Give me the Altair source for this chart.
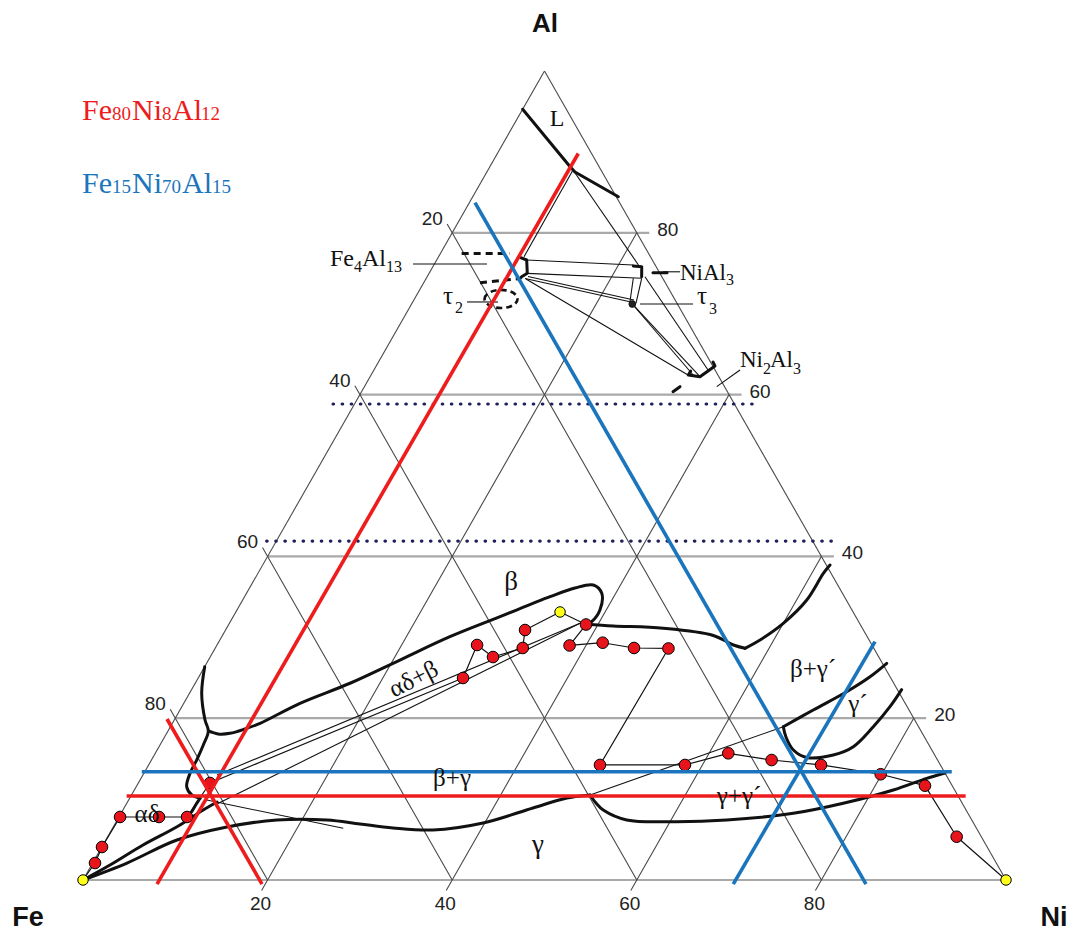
import altair as alt
import pandas as pd

RED = "#ee1c1c"
BLUE = "#1b75bc"
NAVY = "#1f1f5c"
INK = "#111111"

# ---------------- data (compositions: (Ni at.%, Al at.%)) -------------
path_pts = [(0, 0), (0.25, 2.10), (0.02, 4.08), (0.12, 7.79), (4.34, 7.79), (7.38, 7.79), (7.76, 11.99),
            (28.69, 24.97), (28.17, 29.05), (30.64, 27.56), (33.30, 28.68), (32.44, 30.90), (35.12, 33.13),
            (38.71, 31.58), (38.22, 28.99), (41.64, 29.33), (45.36, 28.68), (49.12, 28.62),
            (48.90, 14.22), (58.11, 14.22), (62.08, 15.66), (67.19, 14.83), (72.85, 14.22), (79.89, 13.07),
            (85.39, 11.66), (91.98, 5.35), (100, 0)]
path_kind = ["end"] + ["mid"] * 11 + ["end"] + ["mid"] * 13 + ["end"]

curve_L = [(0, 95.27), (8.54, 88.29), (9.54, 87.52), (15.77, 84.46)]
curve_alpha = [(0, 26.37), (1.32, 23.08), (3.33, 19.78), (4.37, 18.42), (4.69, 16.69), (4.90, 14.83),
               (5.0, 13.18), (5.47, 11.53), (6.53, 10.51), (7.63, 10.10)]
curve_alpha_tail = [(7.63, 10.10), (7.58, 9.48), (7.56, 8.44)]
curve_beta_upper = [(4.37, 18.42), (5.61, 18.05), (6.86, 18.13), (8.22, 18.67), (9.5, 19.37), (12.59, 21.84),
                    (16.77, 24.32), (20.74, 27.19), (24.72, 30.07), (28.91, 32.55), (33.09, 35.02),
                    (35.25, 36.09), (37.06, 36.46), (38.49, 35.43), (39.32, 33.37), (39.15, 31.93),
                    (38.77, 31.61)]
curve_beta_right = [(38.77, 31.61), (41.75, 31.4), (47.31, 31.11), (53.18, 30.22), (55.94, 29.05), (57.4, 28.64)]
curve_bgp_top = [(57.4, 28.64), (58.52, 29.67), (60.01, 31.72), (61.11, 34.61), (61.26, 37.9), (61.46, 38.94)]
curve_gp_top = [(66.4, 18.95), (68.61, 21.01), (71.1, 23.27), (72.71, 25.12), (73.69, 26.78)]
curve_gp_bot = [(66.4, 18.95), (67.32, 17.68), (68.93, 16.07), (70.84, 15.14), (73.56, 15.45), (75.22, 16.48),
                (76.15, 18.95), (76.72, 21.42), (76.93, 23.53)]
curve_ggp_bot = [(49.68, 10.51), (50.82, 9.52), (52.04, 8.65), (55.2, 7.42), (60.71, 7.21), (66.03, 7.42),
                 (72.84, 8.24), (77.63, 9.48), (82.23, 11.12), (85.12, 12.57), (86.78, 13.23)]
curve_gamma = [(0, 0), (3.72, 2.1), (7.71, 4.94), (12.32, 6.55), (17.31, 7.42), (22.73, 7.42), (26.55, 6.92),
               (30.38, 6.43), (34.83, 6.18), (39.82, 7.05), (44.3, 8.9), (47.37, 10.14), (49.68, 10.51)]
curve_A = [(0, 0), (2.0, 1.85), (4.34, 4.33), (6.89, 6.59), (8.7, 8.65), (9.7, 9.64)]

bracket_fe4al13 = [(8.86, 76.97), (9.75, 76.64), (10.64, 74.99), (10.24, 74.57), (10.17, 74.36)]
bracket_nial3 = [(21.67, 75.9), (22.63, 75.81), (23.24, 74.57)]
dash_nial3 = [(24.22, 75.07), (25.74, 75.07)]
bracket_ni2al3 = [(34.38, 62.92), (34.37, 62.42), (35.74, 62.21), (36.7, 63.54), (36.24, 64.03)]
dash_ni2al3 = [(33.74, 60.36), (34.19, 60.98)]
dashed_fe4al13 = [[(2.3, 77.45), (7.53, 77.45)], [(6.1, 73.82), (10.17, 74.36)]]

tie_lines = [
    [(9.21, 87.76), (9.26, 77.05)], [(9.21, 87.76), (22.17, 76.02)],
    [(9.75, 76.64), (21.61, 76.02)], [(10.64, 74.99), (23.34, 74.38)],
    [(10.71, 74.36), (23.65, 71.45)], [(10.91, 74.6), (23.85, 71.69)],
    [(10.85, 74.29), (34.34, 62.42)], [(23.91, 71.2), (35.05, 62.3)], [(23.91, 71.2), (35.74, 62.21)],
    [(23.6, 74.57), (36.2, 63.04)],
    [(22.43, 74.38), (23.52, 71.48)], [(23.34, 74.38), (24.27, 71.28)],
    [(9.66, 9.27), (37.98, 31.73)], [(8.03, 12.98), (37.98, 31.73)],
    [(8.46, 9.89), (25.0, 6.39)], [(49.68, 10.51), (66.4, 18.95)],
]
leaders = [[(-2.32, 76.14), (5.7, 76.14)], [(5.88, 71.45), (9.24, 71.45)], [(25.25, 75.18), (27.1, 75.18)],
           [(24.75, 71.2), (30.49, 71.2)], [(38.17, 60.98), (39.66, 63.04)]]

tau2_center = (9.38, 71.82)
tau3_point = (23.91, 71.2)

dotted_lines = [[(-2.33, 58.84), (43.39, 58.84)], [(-1.05, 41.9), (60.2, 41.9)]]
red_lines = [[(8.27, -0.5), (8.76, 89.8)], [(-0.85, 19.9), (19.64, -0.5)], [(-0.46, 10.38), (90.44, 10.38)]]
blue_lines = [[(0.61, 83.72), (85.08, -0.5)], [(71.08, 29.46), (70.7, -0.5)], [(-0.33, 13.39), (87.43, 13.39)]]

grid_values = [20, 40, 60, 80]

# ---------------- geometry helpers -------------------------------------------------------
W, H = 1062, 925
SX, SY = 9.23, 8.09  # pixels per composition unit
xs = alt.Scale(domain=[-75 / SX, (W - 75) / SX], nice=False, zero=False)
ys = alt.Scale(domain=[(872 - H) / SY, 872 / SY], nice=False, zero=False)


def cart(ni, al):
    return ni + al / 2.0, al


def px2xy(px, py):
    return (px - 83) / SX, (880 - py) / SY


def lines_df(polys):
    rows = []
    for i, pts in enumerate(polys):
        for j, (ni, al) in enumerate(pts):
            x, y = cart(ni, al)
            rows.append({"id": i, "o": j, "X": x, "Y": y})
    return pd.DataFrame(rows)


def line_layer(polys, color, width, dash=None, interp="linear", cap="butt"):
    kw = dict(color=color, strokeWidth=width, interpolate=interp, strokeCap=cap, strokeJoin="round")
    if dash:
        kw["strokeDash"] = dash
    return alt.Chart(lines_df(polys)).mark_line(**kw).encode(
        x=alt.X("X:Q", scale=xs, axis=None),
        y=alt.Y("Y:Q", scale=ys, axis=None),
        detail="id:N", order="o:Q")


# grid
grid_h = [[(0, 0), (100, 0)]] + [[(0, a), (100 - a, a), (100 - a + 1.35, a)] for a in grid_values]
grid_s = [[(0, 0), (0, 100)], [(100, 0), (0, 100)]]
grid_s += [[(n, -1.3), (n, 0), (n, 100 - n)] for n in grid_values]
grid_s += [[(100 - f, 0), (0, 100 - f), (-1.1, 100 - f + 1.1)] for f in grid_values]

layers = []
layers.append(line_layer(grid_h, "#a9a9a9", 2.2))
layers.append(line_layer(grid_s, "#4a4a4a", 1.1))
layers.append(line_layer(dotted_lines, NAVY, 3.2, dash=[0.5, 8.6], cap="round"))
layers.append(line_layer(tie_lines + leaders, INK, 1.1))
layers.append(line_layer([curve_alpha, curve_beta_upper, curve_beta_right, curve_bgp_top, curve_gp_top,
                          curve_gp_bot, curve_ggp_bot, curve_gamma, curve_A],
                         INK, 3.0, interp="catmull-rom", cap="round"))
layers.append(line_layer([curve_L, curve_alpha_tail, bracket_fe4al13, bracket_nial3, dash_nial3,
                          bracket_ni2al3, dash_ni2al3], INK, 3.0, cap="round"))
layers.append(line_layer(dashed_fe4al13, INK, 3.0, dash=[7, 5]))

# tau2 dashed oval and tau3 dot
x2, y2 = cart(*tau2_center)
layers.append(alt.Chart(pd.DataFrame({"X": [x2], "Y": [y2]})).mark_point(
    shape="M-1,0A1,0.55,0,1,1,1,0A1,0.55,0,1,1,-1,0Z", size=1090, filled=False,
    stroke=INK, strokeWidth=2.6, strokeDash=[6, 4], opacity=1).encode(
    x=alt.X("X:Q", scale=xs, axis=None), y=alt.Y("Y:Q", scale=ys, axis=None)))
x3, y3 = cart(*tau3_point)
layers.append(alt.Chart(pd.DataFrame({"X": [x3], "Y": [y3]})).mark_point(
    shape="circle", size=45, filled=True, fill="#222222", stroke=INK, strokeWidth=1, opacity=1).encode(
    x=alt.X("X:Q", scale=xs, axis=None), y=alt.Y("Y:Q", scale=ys, axis=None)))

# diffusion path
layers.append(line_layer([path_pts], INK, 1.2))
pdf = pd.DataFrame([{"X": cart(ni, al)[0], "Y": al, "fillc": ("#ffff1a" if k == "end" else "#e8141b"),
                     "sz": (110 if k == "end" else 135)} for (ni, al), k in zip(path_pts, path_kind)])
layers.append(alt.Chart(pdf).mark_point(filled=True, stroke="#000000", strokeWidth=1, opacity=1).encode(
    x=alt.X("X:Q", scale=xs, axis=None), y=alt.Y("Y:Q", scale=ys, axis=None),
    fill=alt.Fill("fillc:N", scale=None), size=alt.Size("sz:Q", scale=None)))

# composition lines
layers.append(line_layer(red_lines, RED, 3.6))
layers.append(line_layer(blue_lines, BLUE, 3.6))

# ---------------- text ------------------------------------------------------------------
legend_red = [("Fe", 82, 30), ("80", 112, 19), ("Ni", 132, 30), ("8", 162, 19), ("Al", 172, 30), ("12", 201, 19)]
legend_blue = [("Fe", 82, 30), ("15", 112, 19), ("Ni", 132, 30), ("70", 162, 19), ("Al", 182, 30), ("15", 212, 19)]

serif_left = []
for t, x, s in legend_red:
    serif_left.append((t, x, 120, s, RED, 0))
for t, x, s in legend_blue:
    serif_left.append((t, x, 193, s, BLUE, 0))
serif_left += [("Fe", 330, 266, 24, INK, 0), ("4", 354, 272, 16, INK, 0), ("Al", 362, 266, 24, INK, 0),
               ("13", 386, 272, 16, INK, 0),
               ("Ni", 680, 280, 23, INK, 0), ("Al", 703, 280, 23, INK, 0), ("3", 726, 285, 16, INK, 0),
               ("Ni", 740, 367, 23, INK, 0), ("2", 763, 374, 16, INK, 0), ("Al", 770, 367, 23, INK, 0),
               ("3", 793, 374, 16, INK, 0),
               ("τ", 443, 304, 25, INK, 0), ("2", 455, 313, 16, INK, 0),
               ("τ", 697, 304, 25, INK, 0), ("3", 709, 314, 16, INK, 0)]

serif_center = [("L", 557, 126, 24, INK, 0), ("β", 511, 590, 27, INK, 0), ("αδ+β", 417, 686, 25, INK, 333),
                ("β+γ", 452, 786, 25, INK, 0), ("αδ", 147, 822, 25, INK, 0), ("γ", 538, 853, 27, INK, 0),
                ("γ+γ´", 739, 804, 25, INK, 0), ("β+γ´", 813, 677, 25, INK, 0), ("γ´", 858, 712, 25, INK, 0)]

sans_center = []
for a in grid_values:
    ex, ey = 83 + SX * (100 - a + a / 2), 880 - SY * a
    sans_center.append((str(a), ex + 31, ey + 3, 19, "#222222", 0))
for f in grid_values:
    ex, ey = 83 + SX * ((100 - f) / 2), 880 - SY * (100 - f)
    sans_center.append((str(f), ex - 20, ey - 8, 19, "#222222", 0))
for n in grid_values:
    sans_center.append((str(n), 83 + SX * n - 7, 910, 19, "#222222", 0))

bold_center = [("Al", 545, 32, 26, INK, 0), ("Fe", 28, 926, 27, INK, 0), ("Ni", 1054, 926, 27, INK, 0)]


def text_layer(items, font, align, weight="normal"):
    rows = []
    for t, px, py, s, c, ang in items:
        x, y = px2xy(px, py)
        rows.append({"t": t, "X": x, "Y": y, "s": s, "c": c, "a": ang})
    return alt.Chart(pd.DataFrame(rows)).mark_text(
        font=font, align=align, baseline="alphabetic", fontWeight=weight).encode(
        x=alt.X("X:Q", scale=xs, axis=None), y=alt.Y("Y:Q", scale=ys, axis=None),
        text="t:N", size=alt.Size("s:Q", scale=None), color=alt.Color("c:N", scale=None),
        angle=alt.Angle("a:Q", scale=None))


layers.append(text_layer(serif_left, "Liberation Serif", "left"))
layers.append(text_layer(serif_center, "Liberation Serif", "center"))
layers.append(text_layer(sans_center, "Liberation Sans", "center"))
layers.append(text_layer(bold_center, "Liberation Sans", "center", weight="bold"))

chart = alt.layer(*layers).properties(
    width=W, height=H, autosize=alt.AutoSizeParams(type="none"), padding=0
).configure_view(stroke=None)

chart.save("out.html", embed_options={"renderer": "svg", "actions": False})
